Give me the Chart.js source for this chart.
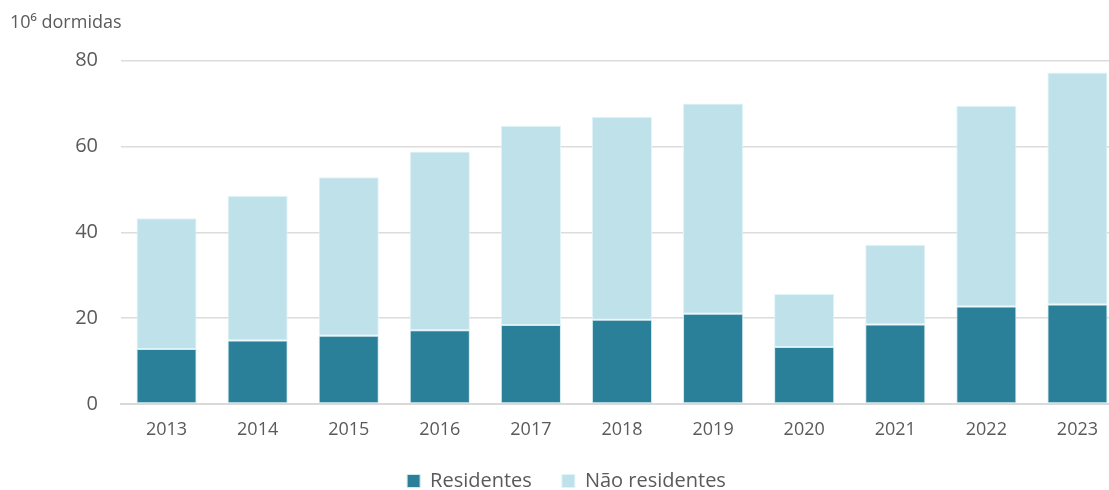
<!DOCTYPE html>
<html>
<head>
<meta charset="utf-8">
<script src="https://cdn.jsdelivr.net/npm/chart.js@4/dist/chart.umd.min.js"></script>
<style>
  html, body { margin: 0; padding: 0; background: #fff; overflow: hidden; }
  #wrap { position: relative; width: 1123px; height: 490px; }
</style>
</head>
<body>
<div id="wrap"><canvas id="c" width="1123" height="490"></canvas></div>
<script>
const categories = ['2013','2014','2015','2016','2017','2018','2019','2020','2021','2022','2023'];
const residentes = [12.8, 14.8, 15.9, 17.2, 18.4, 19.6, 21.0, 13.3, 18.5, 22.7, 23.2];
const naoResidentes = [30.5, 33.7, 36.9, 41.6, 46.4, 47.3, 49.0, 12.3, 18.6, 46.8, 54.0];
const yTicks = [0, 20, 40, 60, 80];
const seriesNames = ['Residentes', 'Não residentes'];
const titleText = '10\u2076 dormidas';

const font = "'Open Sans', 'Noto Sans', sans-serif";
const grey = '#5a5a5a';

new Chart(document.getElementById('c'), {
  type: 'bar',
  data: {
    labels: categories,
    datasets: [
      { label: seriesNames[0], data: residentes, backgroundColor: '#2b8099', borderColor: '#cfe9ef', borderWidth: 1, borderSkipped: false },
      { label: seriesNames[1], data: naoResidentes, backgroundColor: '#bfe1ea', borderColor: '#dff5fa', borderWidth: 1, borderSkipped: false }
    ]
  },
  options: {
    responsive: false,
    animation: false,
    layout: { padding: { left: 10, right: 0, top: 0, bottom: -11 } },
    datasets: { bar: { categoryPercentage: 1.0, barPercentage: 0.66 } },
    plugins: {
      title: {
        display: true, text: titleText, align: 'start', color: grey,
        font: { family: font, size: 18, weight: 'normal' },
        padding: { top: 12, bottom: 27 }
      },
      legend: {
        position: 'bottom',
        labels: { color: grey, font: { family: font, size: 20 }, boxWidth: 13, boxHeight: 13, padding: 30 }
      },
      tooltip: { enabled: false }
    },
    scales: {
      x: {
        stacked: true,
        afterFit: (s) => { s.height = 37; },
        grid: { display: false, drawTicks: false },
        border: { display: true, color: '#d9d9d9', width: 2 },
        ticks: { color: grey, font: { family: font, size: 18 }, padding: 15, maxRotation: 0 }
      },
      y: {
        stacked: true,
        min: 0, max: 80,
        afterBuildTicks: (s) => { s.ticks = yTicks.map(v => ({ value: v })); },
        afterFit: (s) => { s.width = 111; },
        grid: { color: '#dcdcdc', lineWidth: 1.5, drawTicks: false },
        border: { display: false },
        ticks: { color: grey, font: { family: font, size: 20 }, padding: 23 }
      }
    }
  }
});
</script>
</body>
</html>
